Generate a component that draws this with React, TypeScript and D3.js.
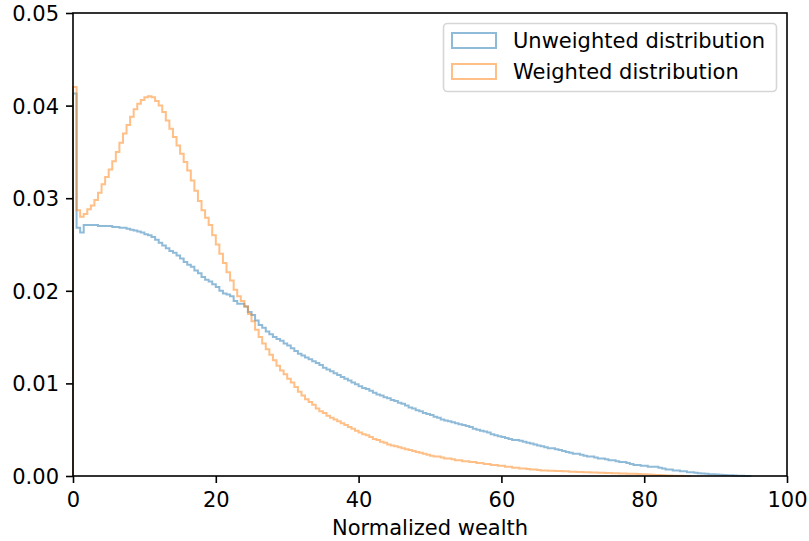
import React, { useEffect, useRef } from 'react';
import * as d3 from 'd3';

// histogram bins are 0.5 wide, starting at 0
const binWidth = 0.5;

// unweighted distribution, one value per bin (0-0.5, 0.5-1.0, ...)
const unweighted = [
  0.0413, 0.0268, 0.0263, 0.0271, 0.0271, 0.0271, 0.0271, 0.0270, 0.0270, 0.0270,
  0.0270, 0.0269, 0.0269, 0.0268, 0.0268, 0.0267, 0.0266, 0.0265, 0.0264, 0.0263,
  0.0261, 0.0260, 0.0258, 0.0255, 0.0252, 0.0249, 0.0246, 0.0243, 0.0241, 0.0238,
  0.0235, 0.0231, 0.0228, 0.0226, 0.0222, 0.0219, 0.0215, 0.0212, 0.0210, 0.0207,
  0.0204, 0.0200, 0.0197, 0.0196, 0.0194, 0.0189, 0.0186, 0.0186, 0.0183, 0.0177,
  0.0174, 0.0168, 0.0163, 0.0160, 0.0156, 0.0153, 0.0150, 0.0148, 0.0146, 0.0143,
  0.0141, 0.0138, 0.0135, 0.0132, 0.0130, 0.0128, 0.0126, 0.0124, 0.0122, 0.0120,
  0.0117, 0.0115, 0.0113, 0.0111, 0.0109, 0.0107, 0.0105, 0.0103, 0.0101, 0.0099,
  0.0097, 0.0095, 0.0094, 0.0092, 0.0090, 0.0088, 0.0087, 0.0085, 0.0084, 0.0082,
  0.0081, 0.0079, 0.0078, 0.0076, 0.0074, 0.0073, 0.0071, 0.0070, 0.0068, 0.0067,
  0.0066, 0.0064, 0.0063, 0.0061, 0.0060, 0.0059, 0.0058, 0.0057, 0.0056, 0.0055,
  0.0054, 0.0053, 0.0051, 0.0050, 0.0049, 0.0048, 0.0047, 0.0045, 0.0044, 0.0043,
  0.0042, 0.0041, 0.0040, 0.0039, 0.0039, 0.0038, 0.0037, 0.0036, 0.0035, 0.0034,
  0.0033, 0.0032, 0.0031, 0.0030, 0.0030, 0.0029, 0.0028, 0.0027, 0.0026, 0.0025,
  0.0024, 0.0024, 0.0023, 0.0022, 0.0021, 0.0021, 0.0020, 0.0019, 0.0019, 0.0018,
  0.0017, 0.0017, 0.0016, 0.0015, 0.0015, 0.0014, 0.0013, 0.0012, 0.0012, 0.0011,
  0.0011, 0.0010, 0.0010, 0.0010, 0.0009, 0.0008, 0.0007, 0.0007, 0.0006, 0.0006,
  0.0005, 0.0005, 0.0004, 0.0004, 0.00035, 0.0003, 0.00027, 0.00024, 0.0002, 0.00018,
  0.00015, 0.00013, 0.0001, 0.00009, 0.00007, 0.00005, 0.00004, 0.00002, 0.00001, 0,
];

// weighted distribution, same bins
const weighted = [
  0.0420, 0.0287, 0.0280, 0.0283, 0.0288, 0.0292, 0.0298, 0.0306, 0.0315, 0.0323,
  0.0331, 0.0340, 0.0350, 0.0360, 0.0370, 0.0379, 0.0388, 0.0396, 0.0402, 0.0406,
  0.0409, 0.0410, 0.0409, 0.0405, 0.0400, 0.0393, 0.0384, 0.0375, 0.0366, 0.0357,
  0.0348, 0.0339, 0.0330, 0.0319, 0.0308, 0.0297, 0.0287, 0.0279, 0.0271, 0.0260,
  0.0250, 0.0240, 0.0230, 0.0220, 0.0211, 0.0201, 0.0194, 0.0189, 0.0183, 0.0175,
  0.0167, 0.0158, 0.0150, 0.0143, 0.0137, 0.0131, 0.0125, 0.0119, 0.0114, 0.0110,
  0.0105, 0.0101, 0.0096, 0.0091, 0.0087, 0.0083, 0.0080, 0.0077, 0.0073, 0.0070,
  0.0068, 0.0065, 0.0063, 0.0061, 0.0059, 0.0057, 0.0055, 0.0053, 0.0051, 0.0049,
  0.0047, 0.0045, 0.0044, 0.0042, 0.0040, 0.0039, 0.0037, 0.0036, 0.0034, 0.0033,
  0.0032, 0.0031, 0.0030, 0.0029, 0.0028, 0.0027, 0.0026, 0.0025, 0.0024, 0.0023,
  0.0022, 0.0021, 0.0021, 0.0020, 0.0019, 0.0019, 0.0018, 0.0017, 0.0017, 0.0016,
  0.0016, 0.0015, 0.0015, 0.0014, 0.0014, 0.0013, 0.0013, 0.0012, 0.0012, 0.0011,
  0.0011, 0.0010, 0.0010, 0.0009, 0.0009, 0.0008, 0.0008, 0.00075, 0.0007, 0.0007,
  0.00065, 0.0006, 0.0006, 0.00058, 0.00056, 0.00055, 0.00054, 0.0005, 0.0005, 0.00047,
  0.00045, 0.00044, 0.00043, 0.0004, 0.0004, 0.00038, 0.00037, 0.00036, 0.00034, 0.00033,
  0.00032, 0.0003, 0.0003, 0.00028, 0.00027, 0.00025, 0.00024, 0.00023, 0.00022, 0.0002,
  0.00018, 0.00016, 0.00014, 0.00012, 0.0001, 0.00008, 0.00006, 0.00005, 0.00004, 0.00003,
  0.00002, 0.00001, 0,
];

const xTicks = [0, 20, 40, 60, 80, 100];
const yTicks = [0, 0.01, 0.02, 0.03, 0.04, 0.05];
const seriesNames = ['Unweighted distribution', 'Weighted distribution'];
const seriesColors = ['#1f77b4', '#ff7f0e'];

const W = 809;
const H = 541;
const margin = { left: 73, right: 22, top: 13, bottom: 65 };
const font = 'DejaVu Sans, sans-serif';
const fontSize = '21px';

function App() {
  const ref = useRef<SVGSVGElement>(null);

  useEffect(() => {
    const svg = d3.select(ref.current);
    svg.selectAll('*').remove();

    const x = d3.scaleLinear().domain([0, 100]).range([margin.left, W - margin.right]);
    const y = d3.scaleLinear().domain([0, 0.05]).range([H - margin.bottom, margin.top]);

    // step outline like matplotlib histtype='step'
    const stepLine = d3.line<[number, number]>()
      .x(d => x(d[0]))
      .y(d => y(d[1]))
      .curve(d3.curveStepAfter);

    const outline = (vals: number[]): [number, number][] => {
      const pts: [number, number][] = [[0, 0]];
      vals.forEach((v, i) => pts.push([i * binWidth, v]));
      pts.push([vals.length * binWidth, 0]);
      return pts;
    };

    [unweighted, weighted].forEach((vals, k) => {
      svg.append('path')
        .attr('d', stepLine(outline(vals)))
        .attr('fill', 'none')
        .attr('stroke', seriesColors[k])
        .attr('stroke-opacity', 0.5)
        .attr('stroke-width', 2)
        .attr('stroke-linejoin', 'miter');
    });

    // spines
    svg.append('rect')
      .attr('x', margin.left)
      .attr('y', margin.top)
      .attr('width', W - margin.left - margin.right)
      .attr('height', H - margin.top - margin.bottom)
      .attr('fill', 'none')
      .attr('stroke', '#000')
      .attr('stroke-width', 1.6);

    const xAxis = d3.axisBottom(x).tickValues(xTicks).tickSize(7).tickPadding(7).tickFormat(d3.format('d'));
    const gx = svg.append('g').attr('transform', `translate(0,${H - margin.bottom})`).call(xAxis);
    gx.select('.domain').remove();

    const yAxis = d3.axisLeft(y).tickValues(yTicks).tickSize(7).tickPadding(7).tickFormat(d3.format('.2f'));
    const gy = svg.append('g').attr('transform', `translate(${margin.left},0)`).call(yAxis);
    gy.select('.domain').remove();

    svg.selectAll('.tick line').attr('stroke', '#000').attr('stroke-width', 1.6);
    svg.selectAll('.tick text')
      .attr('fill', '#000')
      .style('font-family', font)
      .style('font-size', fontSize);
    gx.selectAll('.tick text').attr('dy', null).attr('y', 31);
    gy.selectAll('.tick text').attr('dy', '0.36em');

    svg.append('text')
      .attr('x', (margin.left + W - margin.right) / 2)
      .attr('y', 535)
      .attr('text-anchor', 'middle')
      .style('font-family', font)
      .style('font-size', fontSize)
      .text('Normalized wealth');

    // legend
    const lg = svg.append('g');
    lg.append('rect')
      .attr('x', 443.5)
      .attr('y', 23.5)
      .attr('width', 333)
      .attr('height', 68)
      .attr('rx', 4)
      .attr('fill', '#fff')
      .attr('fill-opacity', 0.8)
      .attr('stroke', '#d6d6d6')
      .attr('stroke-width', 1.6);

    seriesNames.forEach((name, i) => {
      const yy = 33 + i * 31;
      lg.append('rect')
        .attr('x', 452)
        .attr('y', yy)
        .attr('width', 44)
        .attr('height', 15)
        .attr('fill', 'none')
        .attr('stroke', seriesColors[i])
        .attr('stroke-opacity', 0.5)
        .attr('stroke-width', 2);
      lg.append('text')
        .attr('x', 513)
        .attr('y', yy + 15)
        .style('font-family', font)
        .style('font-size', fontSize)
        .text(name);
    });
  }, []);

  return (
    <svg
      ref={ref}
      width={W}
      height={H}
      style={{ position: 'absolute', left: 0, top: 0, background: '#fff' }}
    />
  );
}

export default App;
